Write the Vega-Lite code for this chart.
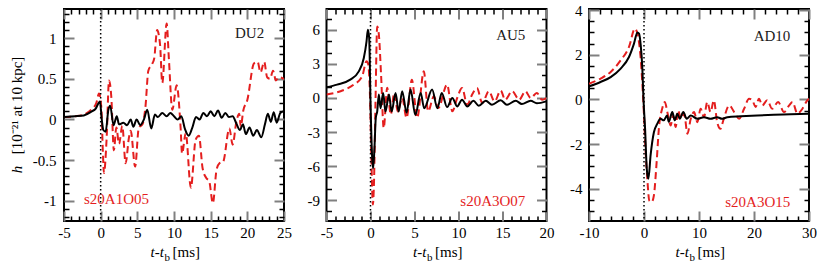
{
  "$schema": "https://vega.github.io/schema/vega-lite/v6.json",
  "padding": {"left": 8, "top": 2, "right": 0, "bottom": 0},
  "background": "white",
  "spacing": 42.5,
  "bounds": "flush",
  "config": {
    "view": {"stroke": "black", "strokeWidth": 2},
    "axis": {"domain": false, "grid": false, "labelFont": "Liberation Serif", "labelFontSize": 15, "labelColor": "black", "labelFlush": false, "labelOverlap": false,
             "titleFont": "Liberation Serif", "titleFontSize": 15, "titleFontWeight": "normal", "titleColor": "black",
             "tickColor": "#808080", "tickWidth": 2},
    "style": {"guide-label": {"font": "Liberation Serif", "fontSize": 15, "fill": "black"}, "guide-title": {"font": "Liberation Serif", "fontSize": 15, "fontWeight": "normal", "fill": "black"}},
    "text": {"font": "Liberation Serif", "fontSize": 15}
  },
  "datasets": {
    "DU2": [
      {"t":-5,"h":0.03},{"t":-3.5,"h":0.04},{"t":-2.3,"h":0.05},{"t":-1.2,"h":0.1},{"t":-0.7,"h":0.13},{"t":-0.3,"h":0.2},{"t":-0.1,"h":0.22},{"t":0.15,"h":0.0},{"t":0.36,"h":-0.13},{"t":0.68,"h":-0.15},{"t":1.05,"h":0.12},{"t":1.3,"h":0.17},{"t":1.75,"h":-0.07},{"t":2.2,"h":0.04},{"t":2.5,"h":-0.06},{"t":3.1,"h":-0.04},{"t":3.6,"h":-0.07},{"t":4.1,"h":0.0},{"t":4.45,"h":-0.09},{"t":4.9,"h":0.0},{"t":5.4,"h":-0.07},{"t":5.9,"h":0.0},{"t":6.35,"h":0.12},{"t":6.9,"h":-0.11},{"t":7.4,"h":0.06},{"t":7.8,"h":0.03},{"t":8.4,"h":0.08},{"t":9.0,"h":0.04},{"t":9.5,"h":0.08},{"t":10,"h":0.04},{"t":10.5,"h":0.0},{"t":11,"h":0.04},{"t":11.5,"h":-0.12},{"t":12,"h":-0.2},{"t":12.5,"h":-0.1},{"t":13,"h":0.03},{"t":13.5,"h":0.0},{"t":14,"h":0.08},{"t":14.5,"h":0.04},{"t":15,"h":0.1},{"t":15.5,"h":0.04},{"t":16,"h":0.11},{"t":16.5,"h":0.02},{"t":17,"h":0.08},{"t":17.5,"h":0.03},{"t":18,"h":0.04},{"t":18.5,"h":-0.05},{"t":19,"h":-0.13},{"t":19.4,"h":-0.06},{"t":19.8,"h":-0.18},{"t":20.3,"h":-0.1},{"t":20.8,"h":-0.2},{"t":21.3,"h":-0.13},{"t":21.9,"h":-0.22},{"t":22.4,"h":-0.06},{"t":22.8,"h":0.07},{"t":23.2,"h":-0.03},{"t":23.6,"h":0.09},{"t":24.0,"h":-0.04},{"t":24.5,"h":0.08},{"t":25,"h":0.1}
    ],
    "s20A1O05": [
      {"t":-5,"h":0.03},{"t":-3.5,"h":0.04},{"t":-2.3,"h":0.06},{"t":-1.2,"h":0.13},{"t":-0.6,"h":0.2},{"t":-0.23,"h":0.32},{"t":0.09,"h":0.15},{"t":0.3,"h":-0.4},{"t":0.45,"h":-0.66},{"t":0.82,"h":-0.22},{"t":1.14,"h":0.48},{"t":1.45,"h":0.28},{"t":1.8,"h":-0.38},{"t":2.14,"h":-0.1},{"t":2.5,"h":-0.3},{"t":2.95,"h":-0.08},{"t":3.4,"h":-0.54},{"t":3.86,"h":-0.22},{"t":4.1,"h":-0.14},{"t":4.7,"h":-0.58},{"t":5.2,"h":-0.1},{"t":5.7,"h":-0.06},{"t":6.1,"h":0.15},{"t":6.5,"h":0.6},{"t":7.0,"h":0.68},{"t":7.3,"h":0.75},{"t":7.7,"h":1.1},{"t":8.1,"h":0.92},{"t":8.4,"h":0.45},{"t":9.0,"h":1.18},{"t":9.3,"h":0.75},{"t":9.77,"h":0.12},{"t":10.36,"h":0.42},{"t":10.9,"h":-0.1},{"t":11.1,"h":-0.42},{"t":11.6,"h":-0.17},{"t":12.3,"h":-0.84},{"t":12.95,"h":-0.25},{"t":13.4,"h":-0.2},{"t":13.9,"h":-0.6},{"t":14.4,"h":-0.72},{"t":14.8,"h":-0.76},{"t":15.3,"h":-1.03},{"t":15.8,"h":-0.62},{"t":16.2,"h":-0.54},{"t":16.7,"h":-0.52},{"t":17.55,"h":-0.11},{"t":18.0,"h":-0.31},{"t":18.5,"h":-0.03},{"t":18.9,"h":0.07},{"t":19.1,"h":-0.09},{"t":19.45,"h":0.11},{"t":20,"h":0.24},{"t":20.9,"h":0.69},{"t":21.4,"h":0.71},{"t":21.8,"h":0.58},{"t":22.3,"h":0.71},{"t":22.7,"h":0.52},{"t":23.1,"h":0.5},{"t":23.5,"h":0.6},{"t":23.9,"h":0.48},{"t":24.3,"h":0.52},{"t":25,"h":0.5}
    ],
    "AU5": [
      {"t":-5,"h":0.94},{"t":-3.8,"h":1.18},{"t":-2.3,"h":1.62},{"t":-1.33,"h":2.35},{"t":-0.76,"h":3.53},{"t":-0.45,"h":5.0},{"t":-0.3,"h":6.03},{"t":-0.15,"h":5.3},{"t":0,"h":-0.3},{"t":0.19,"h":-5.3},{"t":0.3,"h":-6.2},{"t":0.45,"h":-4.4},{"t":0.6,"h":-1.76},{"t":0.76,"h":-1.2},{"t":0.95,"h":0.3},{"t":1.14,"h":-0.9},{"t":1.44,"h":0.44},{"t":1.7,"h":-1.2},{"t":2.1,"h":0.3},{"t":2.4,"h":-1.2},{"t":2.85,"h":0.44},{"t":3.2,"h":-1.2},{"t":3.6,"h":0.6},{"t":4.1,"h":-1.3},{"t":4.55,"h":0.74},{"t":5.1,"h":-1.5},{"t":5.7,"h":0.44},{"t":6.1,"h":-0.9},{"t":7.0,"h":0.74},{"t":7.6,"h":-0.9},{"t":8.1,"h":0.44},{"t":8.7,"h":-0.8},{"t":9.3,"h":0},{"t":9.85,"h":-0.74},{"t":10.4,"h":-0.15},{"t":11,"h":-0.74},{"t":11.7,"h":-0.24},{"t":12.3,"h":-0.68},{"t":13.1,"h":-0.24},{"t":13.8,"h":-0.6},{"t":14.8,"h":-0.2},{"t":15.5,"h":-0.6},{"t":16.5,"h":-0.24},{"t":17.2,"h":-0.53},{"t":18.2,"h":-0.24},{"t":18.9,"h":-0.47},{"t":20,"h":-0.3}
    ],
    "s20A3O07": [
      {"t":-5,"h":0.3},{"t":-3.4,"h":0.6},{"t":-1.9,"h":1.18},{"t":-0.95,"h":1.9},{"t":-0.45,"h":3.24},{"t":-0.3,"h":3.1},{"t":-0.1,"h":1.2},{"t":0.08,"h":-4.7},{"t":0.27,"h":-9.4},{"t":0.38,"h":-7.9},{"t":0.57,"h":-0.3},{"t":0.76,"h":6.3},{"t":0.95,"h":5.6},{"t":1.2,"h":2.06},{"t":1.5,"h":-2.65},{"t":1.9,"h":0.9},{"t":2.3,"h":-1.47},{"t":2.7,"h":0.44},{"t":3.1,"h":-1.2},{"t":3.6,"h":0},{"t":4.1,"h":-1.76},{"t":4.7,"h":1.6},{"t":5.3,"h":-1.76},{"t":6.06,"h":2.35},{"t":6.55,"h":-1.18},{"t":7.2,"h":0.15},{"t":7.7,"h":-0.88},{"t":8.7,"h":1.18},{"t":9.3,"h":-1.18},{"t":9.85,"h":0},{"t":10.4,"h":0.88},{"t":11,"h":-0.6},{"t":11.55,"h":0.3},{"t":12.1,"h":0.88},{"t":12.7,"h":-0.44},{"t":13.45,"h":0.6},{"t":14.1,"h":-0.3},{"t":14.8,"h":0.65},{"t":15.3,"h":-0.15},{"t":16.1,"h":0.6},{"t":16.9,"h":-0.15},{"t":17.6,"h":0.6},{"t":18.2,"h":0},{"t":18.9,"h":0.44},{"t":19.5,"h":-0.15},{"t":20,"h":0}
    ],
    "AD10": [
      {"t":-10,"h":0.58},{"t":-7.9,"h":0.78},{"t":-6.06,"h":1.0},{"t":-4.24,"h":1.38},{"t":-2.73,"h":1.9},{"t":-1.82,"h":2.5},{"t":-1.2,"h":3.0},{"t":-0.9,"h":2.95},{"t":-0.6,"h":2.43},{"t":-0.3,"h":1.38},{"t":-0.1,"h":0.03},{"t":0.2,"h":-1.32},{"t":0.5,"h":-3.1},{"t":0.8,"h":-3.56},{"t":1.2,"h":-2.5},{"t":1.8,"h":-1.47},{"t":2.4,"h":-1.1},{"t":3.0,"h":-0.87},{"t":3.6,"h":-0.94},{"t":4.2,"h":-0.72},{"t":4.5,"h":-1.0},{"t":5.15,"h":-0.57},{"t":5.6,"h":-0.94},{"t":6.06,"h":-0.64},{"t":6.5,"h":-0.87},{"t":7.15,"h":-0.57},{"t":7.76,"h":-0.87},{"t":8.5,"h":-0.72},{"t":9.7,"h":-0.87},{"t":10.9,"h":-0.8},{"t":12.1,"h":-0.87},{"t":13.3,"h":-0.8},{"t":14.2,"h":-0.87},{"t":15.15,"h":-0.8},{"t":17.6,"h":-0.76},{"t":20.6,"h":-0.72},{"t":23.6,"h":-0.69},{"t":26.7,"h":-0.67},{"t":30,"h":-0.64}
    ],
    "s20A3O15": [
      {"t":-10,"h":0.7},{"t":-7.9,"h":0.93},{"t":-6.06,"h":1.23},{"t":-4.24,"h":1.75},{"t":-2.73,"h":2.35},{"t":-1.64,"h":3.17},{"t":-1.2,"h":2.95},{"t":-0.6,"h":1.83},{"t":-0.12,"h":-0.12},{"t":0.3,"h":-2.37},{"t":0.6,"h":-3.56},{"t":0.97,"h":-4.54},{"t":1.4,"h":-4.6},{"t":1.8,"h":-4.3},{"t":2.3,"h":-2.8},{"t":2.7,"h":-1.32},{"t":3.3,"h":-0.42},{"t":3.8,"h":-0.12},{"t":4.24,"h":-0.57},{"t":4.85,"h":-1.17},{"t":5.3,"h":-0.72},{"t":5.76,"h":-1.24},{"t":6.2,"h":-0.49},{"t":6.7,"h":-0.87},{"t":7.3,"h":-0.64},{"t":7.9,"h":-1.54},{"t":8.5,"h":-0.87},{"t":9.1,"h":-0.57},{"t":9.7,"h":-1.02},{"t":10.3,"h":-0.42},{"t":10.9,"h":-0.8},{"t":11.5,"h":-0.12},{"t":12.1,"h":-0.57},{"t":12.7,"h":-0.04},{"t":13.3,"h":-1.02},{"t":13.9,"h":-1.32},{"t":14.5,"h":-0.87},{"t":15.5,"h":-0.27},{"t":16.4,"h":-0.57},{"t":17.3,"h":-0.87},{"t":18.2,"h":-0.42},{"t":19.1,"h":0.03},{"t":19.7,"h":-0.04},{"t":20.3,"h":-0.34},{"t":20.9,"h":0.03},{"t":21.5,"h":-0.27},{"t":22.4,"h":-0.04},{"t":23.3,"h":-0.42},{"t":24.4,"h":-0.12},{"t":25.45,"h":-0.57},{"t":26.4,"h":-0.27},{"t":27,"h":-0.12},{"t":27.9,"h":-0.64},{"t":28.8,"h":-0.42},{"t":29.7,"h":-0.04},{"t":30,"h":0.03}
    ]
  },
  "hconcat": [
    {
      "width": 220, "height": 212,
      "resolve": {"axis": {"x": "independent", "y": "independent"}},
      "layer": [
        {
          "data": {"name": "s20A1O05"},
          "mark": {"type": "line", "color": "#e41e1e", "strokeWidth": 2, "strokeDash": [7, 4], "interpolate": "monotone", "clip": true},
          "encoding": {
            "x": {"field": "t", "type": "quantitative", "scale": {"domain": [-5, 25], "nice": false, "zero": false},
                  "axis": {"orient": "bottom", "values": [-5, 0, 5, 10, 15, 20, 25], "format": "d", "labelExpr": "replace(datum.label, '−', '-')", "tickSize": -10, "labelPadding": 14,
                           "labelFont": "Liberation Serif", "labelFontSize": 15, "labelColor": "black",
                           "title": "t-t", "titleFont": "Liberation Serif", "titleFontSize": 15, "titleFontStyle": "italic", "titleAlign": "left", "titleX": 86, "titleY": 35, "titleBaseline": "alphabetic"}},
            "y": {"field": "h", "type": "quantitative", "scale": {"domain": [-1.25, 1.36], "nice": false, "zero": false},
                  "axis": {"orient": "left", "values": [-1, -0.5, 0, 0.5, 1], "format": ".1~f", "labelExpr": "replace(datum.label, '−', '-')", "tickSize": -10, "labelPadding": 18,
                           "labelFont": "Liberation Serif", "labelFontSize": 15, "labelColor": "black",
                           "title": "[10⁻²¹ at 10 kpc]", "titleFont": "Liberation Serif", "titleFontSize": 15, "titleX": -48, "titleY": 96, "titleAngle": -90, "titleBaseline": "middle", "titleAlign": "center"}}
          }
        },
        {
          "data": {"name": "DU2"},
          "mark": {"type": "line", "color": "black", "strokeWidth": 2, "interpolate": "monotone", "clip": true},
          "encoding": {
            "x": {"field": "t", "type": "quantitative",
                  "axis": {"orient": "bottom", "values": [-4,-3,-2,-1,1,2,3,4,6,7,8,9,11,12,13,14,16,17,18,19,21,22,23,24], "labels": false, "tickSize": -5, "tickColor": "black", "tickWidth": 1.5,
                           "title": "[ms]", "titleFont": "Liberation Serif", "titleFontSize": 15, "titleAlign": "left", "titleX": 108, "titleY": 35, "titleBaseline": "alphabetic"}},
            "y": {"field": "h", "type": "quantitative",
                  "axis": {"orient": "left", "values": [-1.2,-1.1,-0.9,-0.8,-0.7,-0.6,-0.4,-0.3,-0.2,-0.1,0.1,0.2,0.3,0.4,0.6,0.7,0.8,0.9,1.1,1.2,1.3], "labels": false, "tickSize": -5, "tickColor": "black", "tickWidth": 1.5,
                           "title": "h", "titleFont": "Liberation Serif", "titleFontSize": 15, "titleFontStyle": "italic", "titleX": -48, "titleY": 160, "titleAngle": -90, "titleBaseline": "middle", "titleAlign": "center"}}
          }
        },
        {
          "data": {"values": [{"label": "DU2"}]},
          "mark": {"type": "text", "align": "right", "baseline": "middle", "color": "#1a1a1a"},
          "encoding": {
            "x": {"datum": 22.3, "type": "quantitative",
                  "axis": {"orient": "top", "values": [-5, 0, 5, 10, 15, 20, 25], "labels": false, "tickSize": -10,
                           "title": "b", "titleFont": "Liberation Serif", "titleFontSize": 11, "titleAlign": "left", "titleX": 100, "titleY": 251, "titleBaseline": "alphabetic"}},
            "y": {"datum": 1.06, "type": "quantitative",
                  "axis": {"orient": "right", "values": [-1, -0.5, 0, 0.5, 1], "labels": false, "tickSize": -10, "title": null}},
            "text": {"field": "label"}
          }
        },
        {
          "data": {"values": [{"label": "s20A1O05"}]},
          "mark": {"type": "text", "align": "left", "baseline": "middle", "color": "#e41e1e"},
          "encoding": {
            "x": {"datum": -2.27, "type": "quantitative",
                  "axis": {"orient": "top", "values": [-4,-3,-2,-1,1,2,3,4,6,7,8,9,11,12,13,14,16,17,18,19,21,22,23,24], "labels": false, "tickSize": -5, "tickColor": "black", "tickWidth": 1.5, "title": null}},
            "y": {"datum": -0.98, "type": "quantitative",
                  "axis": {"orient": "right", "values": [-1.2,-1.1,-0.9,-0.8,-0.7,-0.6,-0.4,-0.3,-0.2,-0.1,0.1,0.2,0.3,0.4,0.6,0.7,0.8,0.9,1.1,1.2,1.3], "labels": false, "tickSize": -5, "tickColor": "black", "tickWidth": 1.5, "title": null}},
            "text": {"field": "label"}
          }
        },
        {
          "data": {"values": [{"event": "bounce"}]},
          "mark": {"type": "rule", "color": "black", "strokeDash": [1.5, 2.5], "strokeWidth": 1.5},
          "encoding": {"x": {"datum": 0, "type": "quantitative", "axis": null}}
        }
      ]
    },
    {
      "width": 220, "height": 212,
      "resolve": {"axis": {"x": "independent", "y": "independent"}},
      "layer": [
        {
          "data": {"name": "s20A3O07"},
          "mark": {"type": "line", "color": "#e41e1e", "strokeWidth": 2, "strokeDash": [7, 4], "interpolate": "monotone", "clip": true},
          "encoding": {
            "x": {"field": "t", "type": "quantitative", "scale": {"domain": [-5, 20], "nice": false, "zero": false},
                  "axis": {"orient": "bottom", "values": [-5, 0, 5, 10, 15, 20], "format": "d", "labelExpr": "replace(datum.label, '−', '-')", "tickSize": -10, "labelPadding": 14,
                           "labelFont": "Liberation Serif", "labelFontSize": 15, "labelColor": "black",
                           "title": "t-t", "titleFont": "Liberation Serif", "titleFontSize": 15, "titleFontStyle": "italic", "titleAlign": "left", "titleX": 86, "titleY": 35, "titleBaseline": "alphabetic"}},
            "y": {"field": "h", "type": "quantitative", "scale": {"domain": [-10.85, 7.85], "nice": false, "zero": false},
                  "axis": {"orient": "left", "values": [-9, -6, -3, 0, 3, 6], "format": "d", "labelExpr": "replace(datum.label, '−', '-')", "tickSize": -10, "labelPadding": 17,
                           "labelFont": "Liberation Serif", "labelFontSize": 15, "labelColor": "black", "title": null}}
          }
        },
        {
          "data": {"name": "AU5"},
          "mark": {"type": "line", "color": "black", "strokeWidth": 2, "interpolate": "monotone", "clip": true},
          "encoding": {
            "x": {"field": "t", "type": "quantitative",
                  "axis": {"orient": "bottom", "values": [-4,-3,-2,-1,1,2,3,4,6,7,8,9,11,12,13,14,16,17,18,19], "labels": false, "tickSize": -5, "tickColor": "black", "tickWidth": 1.5,
                           "title": "[ms]", "titleFont": "Liberation Serif", "titleFontSize": 15, "titleAlign": "left", "titleX": 108, "titleY": 35, "titleBaseline": "alphabetic"}},
            "y": {"field": "h", "type": "quantitative",
                  "axis": {"orient": "left", "values": [-10,-8,-7,-5,-4,-2,-1,1,2,4,5,7], "labels": false, "tickSize": -5, "tickColor": "black", "tickWidth": 1.5, "title": null}}
          }
        },
        {
          "data": {"values": [{"label": "AU5"}]},
          "mark": {"type": "text", "align": "right", "baseline": "middle", "color": "#1a1a1a"},
          "encoding": {
            "x": {"datum": 17.6, "type": "quantitative",
                  "axis": {"orient": "top", "values": [-5, 0, 5, 10, 15, 20], "labels": false, "tickSize": -10,
                           "title": "b", "titleFont": "Liberation Serif", "titleFontSize": 11, "titleAlign": "left", "titleX": 100, "titleY": 251, "titleBaseline": "alphabetic"}},
            "y": {"datum": 5.6, "type": "quantitative",
                  "axis": {"orient": "right", "values": [-9, -6, -3, 0, 3, 6], "labels": false, "tickSize": -10, "title": null}},
            "text": {"field": "label"}
          }
        },
        {
          "data": {"values": [{"label": "s20A3O07"}]},
          "mark": {"type": "text", "align": "right", "baseline": "middle", "color": "#e41e1e"},
          "encoding": {
            "x": {"datum": 17.6, "type": "quantitative",
                  "axis": {"orient": "top", "values": [-4,-3,-2,-1,1,2,3,4,6,7,8,9,11,12,13,14,16,17,18,19], "labels": false, "tickSize": -5, "tickColor": "black", "tickWidth": 1.5, "title": null}},
            "y": {"datum": -9.06, "type": "quantitative",
                  "axis": {"orient": "right", "values": [-10,-8,-7,-5,-4,-2,-1,1,2,4,5,7], "labels": false, "tickSize": -5, "tickColor": "black", "tickWidth": 1.5, "title": null}},
            "text": {"field": "label"}
          }
        },
        {
          "data": {"values": [{"event": "bounce"}]},
          "mark": {"type": "rule", "color": "black", "strokeDash": [1.5, 2.5], "strokeWidth": 1.5},
          "encoding": {"x": {"datum": 0, "type": "quantitative", "axis": null}}
        }
      ]
    },
    {
      "width": 220, "height": 212,
      "resolve": {"axis": {"x": "independent", "y": "independent"}},
      "layer": [
        {
          "data": {"name": "s20A3O15"},
          "mark": {"type": "line", "color": "#e41e1e", "strokeWidth": 2, "strokeDash": [7, 4], "interpolate": "monotone", "clip": true},
          "encoding": {
            "x": {"field": "t", "type": "quantitative", "scale": {"domain": [-10, 30], "nice": false, "zero": false},
                  "axis": {"orient": "bottom", "values": [-10, 0, 10, 20, 30], "format": "d", "labelExpr": "replace(datum.label, '−', '-')", "tickSize": -10, "labelPadding": 14,
                           "labelFont": "Liberation Serif", "labelFontSize": 15, "labelColor": "black",
                           "title": "t-t", "titleFont": "Liberation Serif", "titleFontSize": 15, "titleFontStyle": "italic", "titleAlign": "left", "titleX": 86, "titleY": 35, "titleBaseline": "alphabetic"}},
            "y": {"field": "h", "type": "quantitative", "scale": {"domain": [-5.45, 4.05], "nice": false, "zero": false},
                  "axis": {"orient": "left", "values": [-4, -2, 0, 2, 4], "format": "d", "labelExpr": "replace(datum.label, '−', '-')", "tickSize": -10, "labelPadding": 17,
                           "labelFont": "Liberation Serif", "labelFontSize": 15, "labelColor": "black", "title": null}}
          }
        },
        {
          "data": {"name": "AD10"},
          "mark": {"type": "line", "color": "black", "strokeWidth": 2, "interpolate": "monotone", "clip": true},
          "encoding": {
            "x": {"field": "t", "type": "quantitative",
                  "axis": {"orient": "bottom", "values": [-8,-6,-4,-2,2,4,6,8,12,14,16,18,22,24,26,28], "labels": false, "tickSize": -5, "tickColor": "black", "tickWidth": 1.5,
                           "title": "[ms]", "titleFont": "Liberation Serif", "titleFontSize": 15, "titleAlign": "left", "titleX": 108, "titleY": 35, "titleBaseline": "alphabetic"}},
            "y": {"field": "h", "type": "quantitative",
                  "axis": {"orient": "left", "values": [-5,-4.5,-3.5,-3,-2.5,-1.5,-1,-0.5,0.5,1,1.5,2.5,3,3.5], "labels": false, "tickSize": -5, "tickColor": "black", "tickWidth": 1.5, "title": null}}
          }
        },
        {
          "data": {"values": [{"label": "AD10"}]},
          "mark": {"type": "text", "align": "right", "baseline": "middle", "color": "#1a1a1a"},
          "encoding": {
            "x": {"datum": 26.6, "type": "quantitative",
                  "axis": {"orient": "top", "values": [-10, 0, 10, 20, 30], "labels": false, "tickSize": -10,
                           "title": "b", "titleFont": "Liberation Serif", "titleFontSize": 11, "titleAlign": "left", "titleX": 100, "titleY": 251, "titleBaseline": "alphabetic"}},
            "y": {"datum": 2.85, "type": "quantitative",
                  "axis": {"orient": "right", "values": [-4, -2, 0, 2, 4], "labels": false, "tickSize": -10, "title": null}},
            "text": {"field": "label"}
          }
        },
        {
          "data": {"values": [{"label": "s20A3O15"}]},
          "mark": {"type": "text", "align": "right", "baseline": "middle", "color": "#e41e1e"},
          "encoding": {
            "x": {"datum": 26.6, "type": "quantitative",
                  "axis": {"orient": "top", "values": [-8,-6,-4,-2,2,4,6,8,12,14,16,18,22,24,26,28], "labels": false, "tickSize": -5, "tickColor": "black", "tickWidth": 1.5, "title": null}},
            "y": {"datum": -4.58, "type": "quantitative",
                  "axis": {"orient": "right", "values": [-5,-4.5,-3.5,-3,-2.5,-1.5,-1,-0.5,0.5,1,1.5,2.5,3,3.5], "labels": false, "tickSize": -5, "tickColor": "black", "tickWidth": 1.5, "title": null}},
            "text": {"field": "label"}
          }
        },
        {
          "data": {"values": [{"event": "bounce"}]},
          "mark": {"type": "rule", "color": "black", "strokeDash": [1.5, 2.5], "strokeWidth": 1.5},
          "encoding": {"x": {"datum": 0, "type": "quantitative", "axis": null}}
        }
      ]
    }
  ]
}
